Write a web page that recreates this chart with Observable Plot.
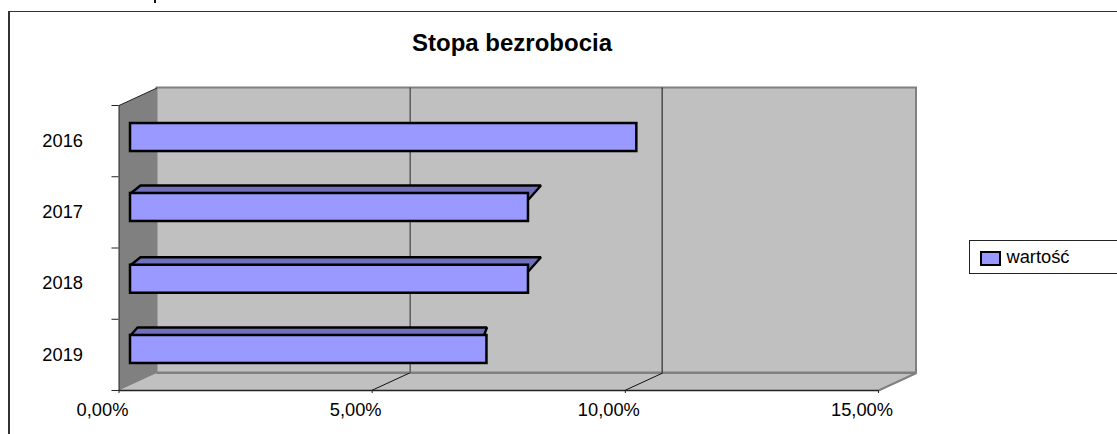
<!DOCTYPE html>
<html lang="pl">
<head>
<meta charset="utf-8">
<script src="https://cdn.jsdelivr.net/npm/d3@7"></script>
<script src="https://cdn.jsdelivr.net/npm/@observablehq/plot@0.6"></script>
<style>
  html, body { margin: 0; padding: 0; background: #fff; width: 1117px; height: 434px; overflow: hidden; }
  body { position: relative; font-family: "Liberation Sans", Arial, sans-serif; color: #000; }
  #frame { position: absolute; left: 8px; top: 10.5px; width: 1200px; height: 500px; box-sizing: border-box;
           border-left: 2px solid #333; border-top: 1.2px solid #333; }
  #clip { position: absolute; left: 154px; top: 0; width: 2px; height: 3px; background: #111; }
  #title { position: absolute; left: 312px; width: 400px; top: 29px; text-align: center; font-weight: bold; font-size: 24px; line-height: 27px; }
  #legend { position: absolute; left: 968.5px; top: 240px; width: 200px; height: 33.5px; box-sizing: border-box; border: 1.2px solid #222; background: #fff; }
  #swatch { position: absolute; left: 979.5px; top: 251px; width: 21px; height: 15px; box-sizing: border-box; border: 2.5px solid #000; background: #9999ff; }
  #ltext { position: absolute; left: 1006.5px; top: 246px; font-size: 18.3px; line-height: 21px; }
  #chart { position: absolute; left: 0; top: 0; }
</style>
</head>
<body>
<div id="chart"></div>
<div id="frame"></div>
<div id="clip"></div>
<div id="title">Stopa bezrobocia</div>
<div id="legend"></div>
<div id="swatch"></div>
<div id="ltext">wartość</div>
<script>
// Data
const years = ["2016", "2017", "2018", "2019"];
const values = [10.0, 7.86, 7.86, 7.04];       // percent
const xTicks = [0, 5, 10, 15];

// Pseudo-3D styling (pixels)
const depthDx = 38, depthDy = -17.5;           // wall offset
const barDx = 11.5, barDy = -4.5, barHeight = 28;
const barNudge = [0.9, -0.4, 0.1, -0.9];
// top cap of each bar: [lean left, height, lean right, lower-right x, lower-right y]
const capShape = [null, [10, 8, 12.5, 0, 6], [10, 8, 12.5, 0, 6], [7, 8, 0, -3, 0]];

const W = 1117, H = 434, mL = 118.5, mR = 239, mT = 105, mB = 44;
const pxX = (W - mL - mR) / 15, pxY = (H - mT - mB) / 4;
const ddx = depthDx / pxX, ddy = depthDy / pxY;
const fmt = d => d.toFixed(2).replace(".", ",") + "%";

const rows = years.map((year, i) => {
  const c = i + 0.5 + barNudge[i] / pxY, hh = barHeight / 2 / pxY;
  return {year, value: values[i], i, y1: c - hh, y2: c + hh};
});

const sideWall = [{x: 0, y: 0}, {x: ddx, y: ddy}, {x: ddx, y: 4 + ddy}, {x: 0, y: 4}];
const floor = [{x: 0, y: 4}, {x: ddx, y: 4 + ddy}, {x: 15 + ddx, y: 4 + ddy}, {x: 15, y: 4}];
const caps = rows.flatMap(r => {
  const s = capShape[r.i];
  if (!s) return [];
  const [l, h, rr, bx, by] = s;
  return [
    {k: r.i, x: 0, y: r.y1},
    {k: r.i, x: l / pxX, y: r.y1 - h / pxY},
    {k: r.i, x: r.value + rr / pxX, y: r.y1 - h / pxY},
    {k: r.i, x: r.value + bx / pxX, y: r.y1 + by / pxY},
    {k: r.i, x: 0, y: r.y1}
  ];
});

const plot = Plot.plot({
  width: W, height: H,
  marginLeft: mL, marginRight: mR, marginTop: mT, marginBottom: mB,
  style: {background: "transparent", fontFamily: "'Liberation Sans', Arial, sans-serif", color: "#000"},
  x: {domain: [0, 15], axis: null},
  y: {domain: [0, 4], reverse: true, axis: null},
  marks: [
    // back wall
    Plot.rect([0], {x1: 0, x2: 15, y1: 0, y2: 4, dx: depthDx, dy: depthDy, fill: "#c0c0c0", stroke: "#808080", strokeWidth: 2}),
    // floor
    Plot.line(floor, {x: "x", y: "y", fill: "#c0c0c0", stroke: "none", curve: "linear-closed"}),
    Plot.ruleY([4], {x1: 0, x2: 15, dx: depthDx, dy: depthDy, stroke: "#808080", strokeWidth: 2}),
    // side wall
    Plot.line(sideWall, {x: "x", y: "y", fill: "#808080", stroke: "none", curve: "linear-closed"}),
    Plot.link([0], {x1: 0, y1: 0, x2: ddx, y2: ddy, stroke: "#222", strokeWidth: 1}),
    // grid on the wall
    Plot.ruleX([5], {y1: 0, y2: 4, dx: depthDx, dy: depthDy, stroke: "#444", strokeWidth: 1.2}),
    Plot.ruleX([10], {y1: 0, y2: 4, dx: depthDx - 1.2, dy: depthDy, stroke: "#111", strokeWidth: 1}),
    // grid on the floor
    Plot.link([5, 10], {x1: d => d, y1: 4, x2: d => d + ddx, y2: 4 + ddy, dx: -0.6, stroke: "#111", strokeWidth: 1}),
    Plot.link([15], {x1: d => d, y1: 4, x2: d => d + ddx, y2: 4 + ddy, stroke: "#808080", strokeWidth: 2}),
    // axes
    Plot.ruleX([0], {y1: 0, y2: 4, stroke: "#222", strokeWidth: 1}),
    Plot.ruleY([4], {x1: 0, x2: 15, stroke: "#222", strokeWidth: 1.3}),
    Plot.axisY([0, 1, 2, 3, 4], {anchor: "left", tickSize: 7, stroke: "#222", tickFormat: () => "", label: null}),
    Plot.axisY(rows.map(r => r.i + 0.5), {anchor: "left", tickSize: 0, tickPadding: 36, fontSize: 18.3, tickFormat: d => years[d - 0.5], label: null}),
    Plot.axisX(xTicks, {anchor: "bottom", tickSize: 3, stroke: "#222", tickFormat: () => "", label: null}),
    Plot.text(xTicks, {x: d => d, y: 4, text: fmt, dx: -16.5, dy: 20, fontSize: 18.3, fill: "#000"}),
    // bars
    Plot.line(caps, {x: "x", y: "y", z: "k", fill: "#7070bd", stroke: "#000", strokeWidth: 2.4, dx: barDx, dy: barDy, strokeLinejoin: "miter"}),
    Plot.rect(rows, {x1: 0, x2: "value", y1: "y1", y2: "y2", dx: barDx, dy: barDy, fill: "#9999ff", stroke: "#000", strokeWidth: 2.5})
  ]
});
document.getElementById("chart").append(plot);
</script>
</body>
</html>
